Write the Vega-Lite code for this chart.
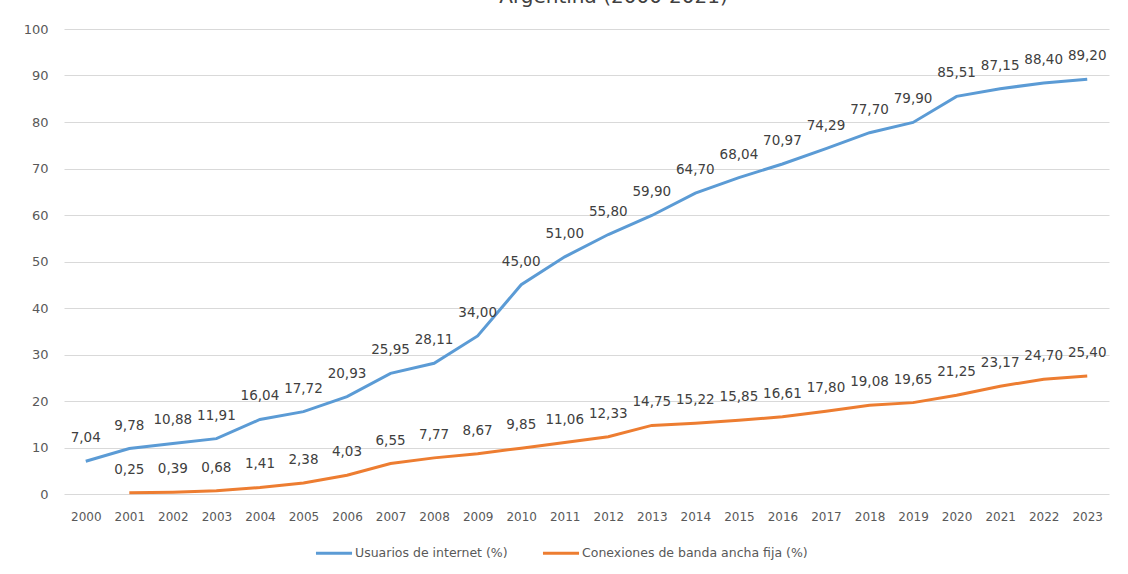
{
  "$schema": "https://vega.github.io/schema/vega-lite/v6.json",
  "autosize": "none",
  "width": 1045,
  "height": 465,
  "padding": {"left": 64, "top": 29, "right": 19, "bottom": 80},
  "background": "white",
  "title": {"text": "Argentina (2000-2021)", "fontSize": 20, "fontWeight": "normal", "font": "DejaVu Sans", "color": "#404040", "offset": 16, "dx": 27, "anchor": "middle"},
  "config": {
    "locale": {"number": {"decimal": ",", "thousands": ".", "grouping": [3], "currency": ["$", ""]}},
    "view": {"stroke": null},
    "font": "DejaVu Sans"
  },
  "data": {"values": [
    {"year": "2000", "series": "Usuarios de internet (%)", "value": 7.04},
    {"year": "2001", "series": "Usuarios de internet (%)", "value": 9.78},
    {"year": "2002", "series": "Usuarios de internet (%)", "value": 10.88},
    {"year": "2003", "series": "Usuarios de internet (%)", "value": 11.91},
    {"year": "2004", "series": "Usuarios de internet (%)", "value": 16.04},
    {"year": "2005", "series": "Usuarios de internet (%)", "value": 17.72},
    {"year": "2006", "series": "Usuarios de internet (%)", "value": 20.93},
    {"year": "2007", "series": "Usuarios de internet (%)", "value": 25.95},
    {"year": "2008", "series": "Usuarios de internet (%)", "value": 28.11},
    {"year": "2009", "series": "Usuarios de internet (%)", "value": 34.00},
    {"year": "2010", "series": "Usuarios de internet (%)", "value": 45.00},
    {"year": "2011", "series": "Usuarios de internet (%)", "value": 51.00},
    {"year": "2012", "series": "Usuarios de internet (%)", "value": 55.80},
    {"year": "2013", "series": "Usuarios de internet (%)", "value": 59.90},
    {"year": "2014", "series": "Usuarios de internet (%)", "value": 64.70},
    {"year": "2015", "series": "Usuarios de internet (%)", "value": 68.04},
    {"year": "2016", "series": "Usuarios de internet (%)", "value": 70.97},
    {"year": "2017", "series": "Usuarios de internet (%)", "value": 74.29},
    {"year": "2018", "series": "Usuarios de internet (%)", "value": 77.70},
    {"year": "2019", "series": "Usuarios de internet (%)", "value": 79.90},
    {"year": "2020", "series": "Usuarios de internet (%)", "value": 85.51},
    {"year": "2021", "series": "Usuarios de internet (%)", "value": 87.15},
    {"year": "2022", "series": "Usuarios de internet (%)", "value": 88.40},
    {"year": "2023", "series": "Usuarios de internet (%)", "value": 89.20},
    {"year": "2001", "series": "Conexiones de banda ancha fija (%)", "value": 0.25},
    {"year": "2002", "series": "Conexiones de banda ancha fija (%)", "value": 0.39},
    {"year": "2003", "series": "Conexiones de banda ancha fija (%)", "value": 0.68},
    {"year": "2004", "series": "Conexiones de banda ancha fija (%)", "value": 1.41},
    {"year": "2005", "series": "Conexiones de banda ancha fija (%)", "value": 2.38},
    {"year": "2006", "series": "Conexiones de banda ancha fija (%)", "value": 4.03},
    {"year": "2007", "series": "Conexiones de banda ancha fija (%)", "value": 6.55},
    {"year": "2008", "series": "Conexiones de banda ancha fija (%)", "value": 7.77},
    {"year": "2009", "series": "Conexiones de banda ancha fija (%)", "value": 8.67},
    {"year": "2010", "series": "Conexiones de banda ancha fija (%)", "value": 9.85},
    {"year": "2011", "series": "Conexiones de banda ancha fija (%)", "value": 11.06},
    {"year": "2012", "series": "Conexiones de banda ancha fija (%)", "value": 12.33},
    {"year": "2013", "series": "Conexiones de banda ancha fija (%)", "value": 14.75},
    {"year": "2014", "series": "Conexiones de banda ancha fija (%)", "value": 15.22},
    {"year": "2015", "series": "Conexiones de banda ancha fija (%)", "value": 15.85},
    {"year": "2016", "series": "Conexiones de banda ancha fija (%)", "value": 16.61},
    {"year": "2017", "series": "Conexiones de banda ancha fija (%)", "value": 17.80},
    {"year": "2018", "series": "Conexiones de banda ancha fija (%)", "value": 19.08},
    {"year": "2019", "series": "Conexiones de banda ancha fija (%)", "value": 19.65},
    {"year": "2020", "series": "Conexiones de banda ancha fija (%)", "value": 21.25},
    {"year": "2021", "series": "Conexiones de banda ancha fija (%)", "value": 23.17},
    {"year": "2022", "series": "Conexiones de banda ancha fija (%)", "value": 24.70},
    {"year": "2023", "series": "Conexiones de banda ancha fija (%)", "value": 25.40}
  ]},
  "encoding": {
    "x": {"field": "year", "type": "ordinal", "scale": {"type": "point", "padding": 0.5},
      "axis": {"title": null, "labelAngle": 0, "domain": false, "ticks": false, "labelFontSize": 12, "labelColor": "#595959", "labelPadding": 17}},
    "y": {"field": "value", "type": "quantitative", "scale": {"domain": [0, 100], "nice": false},
      "axis": {"title": null, "values": [0,10,20,30,40,50,60,70,80,90,100], "domain": false, "ticks": false, "labelFontSize": 13, "labelColor": "#595959", "labelPadding": 16, "gridColor": "#d9d9d9", "gridWidth": 1}}
  },
  "layer": [
    {
      "mark": {"type": "line", "strokeWidth": 3, "interpolate": "linear"},
      "encoding": {
        "color": {"field": "series", "type": "nominal",
          "scale": {"domain": ["Usuarios de internet (%)", "Conexiones de banda ancha fija (%)"], "range": ["#5B9BD5", "#ED7D31"]},
          "legend": {"title": null, "orient": "none", "legendX": 250, "legendY": 504, "direction": "horizontal", "symbolType": "stroke", "symbolSize": 1300, "symbolStrokeWidth": 3, "labelFontSize": 12.5, "labelColor": "#595959", "columnPadding": 28, "labelOffset": 1, "labelLimit": 0}
        }
      }
    },
    {
      "mark": {"type": "text", "dy": -23, "fontSize": 13.5, "color": "#404040", "baseline": "middle"},
      "encoding": {
        "text": {"field": "value", "type": "quantitative", "format": ".2f"}
      }
    }
  ]
}
